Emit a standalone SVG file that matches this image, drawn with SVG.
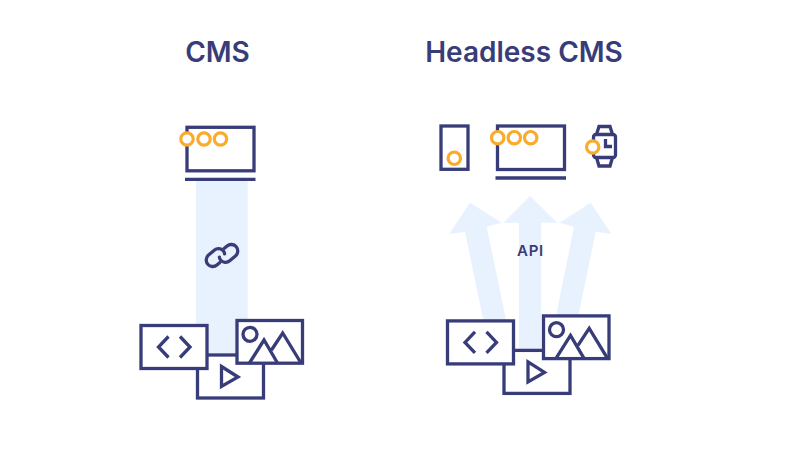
<svg xmlns="http://www.w3.org/2000/svg" xmlns:xlink="http://www.w3.org/1999/xlink" width="800" height="450" viewBox="0 0 800 450">
<style>
.t{font-family:"Inter","Liberation Sans",sans-serif;font-weight:600;fill:#383c78;text-anchor:middle}
.s{fill:none;stroke:#383c78;stroke-width:3.3}
.w{fill:#fff;stroke:#383c78;stroke-width:3.3}
.o{fill:#fff;stroke:#fbab2c;stroke-width:3.2}
.b{fill:#e8f2fe}
</style>
<defs>
<g id="laptop"><rect class="w" x="187" y="127.3" width="67" height="43.5"/><path class="s" d="M185 179.3H255.5"/></g>
<g id="stack">
<rect class="w" x="197.5" y="355" width="66" height="43"/>
<path class="s" d="M221.5 366.5L238 377L221.5 386.5Z"/>
<rect class="w" x="141" y="325.5" width="66" height="43"/>
<path class="s" d="M168.5 336.5L158.5 347L168.5 357.5M180 336.5L190 347L180 357.5"/>
<rect class="w" x="237" y="320.5" width="65.5" height="42.7"/>
<circle class="s" cx="250" cy="334.3" r="7"/>
<path class="s" d="M249.5 363L264 340L277.5 363M271.5 350L282.7 333L301 363"/>
</g>
</defs>
<g id="connectors">
<rect class="b" x="196" y="181" width="51.7" height="175"/>
<path class="b" d="M483.3 320L465 231.7L449.3 234L470 202.7L501.7 222.7L486.7 226.7L506 320Z"/>
<path class="b" d="M519 350V222.7H503.3L530 196L557.3 222.7H541V350Z"/>
<path class="b" d="M556 316L574 226.7L559.3 222.7L590.7 202.7L611.3 234L595.7 231.7L578.3 316Z"/>
</g>
<text class="t" x="217.5" y="61.5" font-size="28">CMS</text>
<text class="t" x="524" y="61.5" font-size="28">Headless CMS</text>
<g id="cms-site"><use xlink:href="#laptop"/>
<circle class="o" cx="187" cy="139" r="6.2"/><circle class="o" cx="204" cy="139" r="6.2"/><circle class="o" cx="220.5" cy="139" r="6.2"/></g>
<g id="link" transform="translate(222 255.5) rotate(-40)">
<path class="s" stroke-linecap="round" d="M-6.5 4H-10A6.5 6.5 0 0 1 -10 -9H-2.5A6.5 6.5 0 0 1 4 -2.5Q4 -1 3 .5"/>
<path class="s" stroke-linecap="round" d="M6.5 -4H10A6.5 6.5 0 0 1 10 9H2.5A6.5 6.5 0 0 1 -4 2.5Q-4 1 -3 -.5"/>
</g>
<g id="cms-content"><use xlink:href="#stack"/></g>
<g id="phone"><rect class="w" x="441" y="126" width="27" height="43.3"/><circle class="o" cx="454.3" cy="158.3" r="6.2"/></g>
<g id="headless-site"><use xlink:href="#laptop" transform="translate(310.5 -1.3)"/>
<circle class="o" cx="497.7" cy="137.7" r="6.2"/><circle class="o" cx="514.3" cy="137.7" r="6.2"/><circle class="o" cx="530.7" cy="137.7" r="6.2"/></g>
<g id="watch"><path class="s" d="M596.5 134.5L599 126.5H610L612.5 134.5M596.5 157.5L599 166H610L612.5 157.5"/>
<rect class="w" x="593.5" y="134.5" width="22" height="23" rx="2.5"/>
<path class="s" d="M605.5 139V146.5H612"/>
<circle class="o" cx="592.7" cy="147" r="6.2"/></g>
<text class="t" x="530.5" y="256" font-size="15" letter-spacing=".7">API</text>
<g id="headless-content"><use xlink:href="#stack" transform="translate(306.5 -4.6)"/></g>
</svg>
